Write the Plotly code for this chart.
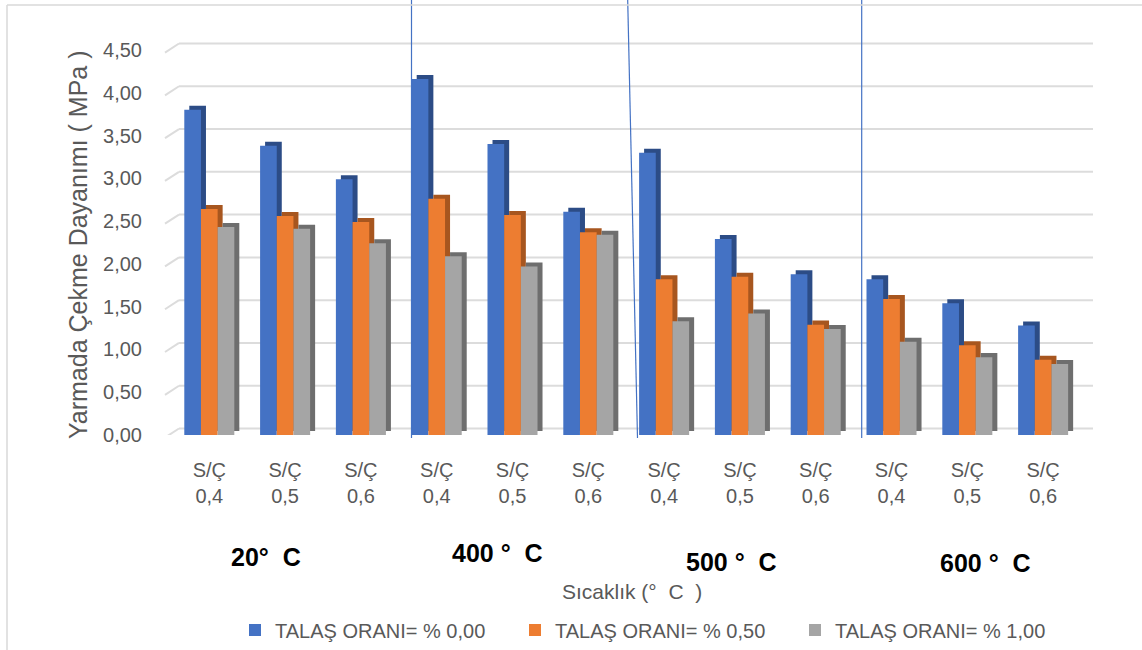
import plotly.graph_objects as go

# ---------------- data ----------------
categories = ["S/Ç<br>0,4", "S/Ç<br>0,5", "S/Ç<br>0,6"] * 4
temperature_labels = ["20°  C", "400 °  C", "500 °  C", "600 °  C"]
series_names = ["TALAŞ ORANI= % 0,00", "TALAŞ ORANI= % 0,50", "TALAŞ ORANI= % 1,00"]
talas_000 = [3.80, 3.38, 2.99, 4.16, 3.40, 2.61, 3.30, 2.29, 1.88, 1.82, 1.54, 1.28]
talas_050 = [2.64, 2.56, 2.49, 2.76, 2.57, 2.37, 1.82, 1.85, 1.29, 1.59, 1.05, 0.88]
talas_100 = [2.43, 2.41, 2.24, 2.09, 1.97, 2.34, 1.33, 1.42, 1.24, 1.09, 0.91, 0.83]
y_ticks = [0, 0.5, 1, 1.5, 2, 2.5, 3, 3.5, 4, 4.5]

# ---------------- styles ----------------
front_colors = ["#4472C4", "#ED7D31", "#A5A5A5"]
side_colors = ["#2C4C86", "#A7561F", "#6E6E6E"]
offsets = [-0.33, -0.11, 0.11]
bar_w = 0.22
depth_x = 0.066
depth_y = 0.047
wall_shift = 0.076     # back-wall gridline offset (pseudo-3D)
floor_drop = 0.03
FONT = "Liberation Sans, Arial, sans-serif"
GREY_TXT = "#595959"
GRID = "#DCDCDC"

xs = list(range(len(categories)))
series = [talas_000, talas_050, talas_100]

fig = go.Figure()
for i, vals in enumerate(series):
    # pseudo-3D side/top face
    fig.add_trace(go.Bar(
        x=xs, y=vals, base=[depth_y] * len(vals),
        offset=offsets[i] + depth_x, width=bar_w,
        marker=dict(color=side_colors[i], line=dict(width=0)),
        showlegend=False, hoverinfo="skip"))
    # front face
    fig.add_trace(go.Bar(
        x=xs, y=vals, offset=offsets[i], width=bar_w, name=series_names[i],
        marker=dict(color=front_colors[i], line=dict(width=0))))

L, R, T, B = 175, 49, 40, 215
W, H = 1142, 650
pw, ph = W - L - R, H - T - B
PPU = 85.56
y_max = ph / PPU


def px(xp):
    return (xp - L) / pw


def py(yp):
    return (H - B - yp) / ph


fig.update_layout(
    width=W, height=H,
    margin=dict(l=L, r=R, t=T, b=B, autoexpand=False),
    paper_bgcolor="white", plot_bgcolor="white",
    barmode="overlay",
    separators=", ",
    font=dict(family=FONT, color=GREY_TXT),
    xaxis=dict(
        range=[-0.4525, 11.658], tickmode="array", tickvals=xs, ticktext=categories,
        showgrid=False, zeroline=False, showline=False, ticks="",
        tickfont=dict(size=20, color=GREY_TXT), ticklabelstandoff=21,
        automargin=False,
    ),
    yaxis=dict(
        range=[0, y_max], tickmode="array", tickvals=y_ticks, tickformat=".2f",
        showgrid=False, zeroline=False,
        showline=False, ticks="", tickfont=dict(size=20, color=GREY_TXT),
        ticklabelstandoff=32, automargin=False,
    ),
    legend=dict(
        orientation="h", x=px(235), xanchor="left", y=py(630), yanchor="middle",
        font=dict(size=20, color=GREY_TXT), entrywidth=235, entrywidthmode="pixels",
        bgcolor="rgba(0,0,0,0)",
    ),
)

# pseudo-3D gridlines: back-wall line plus floor diagonal, positioned on the y scale
for v in y_ticks:
    fig.add_shape(type="line", xref="paper", yref="y", layer="below",
                  x0=px(179), x1=px(1093), y0=v + wall_shift, y1=v + wall_shift,
                  line=dict(color=GRID, width=2))
    fig.add_shape(type="line", xref="paper", yref="y", layer="below",
                  x0=px(165), x1=px(179), y0=v - floor_drop, y1=v + wall_shift,
                  line=dict(color=GRID, width=2))

# y-axis title
fig.add_annotation(text="Yarmada Çekme Dayanımı ( MPa )", xref="paper", yref="paper",
                   x=px(78), y=py(245), textangle=-90, showarrow=False,
                   font=dict(size=25, color=GREY_TXT), xanchor="center", yanchor="middle")
# x-axis title
fig.add_annotation(text="Sıcaklık (°  C  )", xref="paper", yref="paper",
                   x=px(632), y=py(591), showarrow=False,
                   font=dict(size=21, color=GREY_TXT), xanchor="center", yanchor="middle")
# temperature group labels
for lbl, (gx, gy) in zip(temperature_labels, [(266, 557), (497, 553), (731, 562), (985, 563)]):
    fig.add_annotation(text="<b>%s</b>" % lbl, xref="paper", yref="paper",
                       x=px(gx), y=py(gy), showarrow=False,
                       font=dict(size=25, color="black"), xanchor="center", yanchor="middle")

# separator lines
for (x0, x1) in [(411.5, 411.5), (627.7, 637.5), (861.7, 861.7)]:
    fig.add_shape(type="line", xref="paper", yref="paper",
                  x0=px(x0), x1=px(x1), y0=py(0), y1=py(438),
                  line=dict(color="#4472C4", width=1.2))
# chart area border (top & left)
fig.add_shape(type="line", xref="paper", yref="paper", x0=px(7), x1=px(1142),
              y0=py(5), y1=py(5), line=dict(color="#D9D9D9", width=1.5))
fig.add_shape(type="line", xref="paper", yref="paper", x0=px(7), x1=px(7),
              y0=py(5), y1=py(650), line=dict(color="#D9D9D9", width=1.5))

fig.write_html("out.html", config={"displayModeBar": False},
               post_script="document.body.style.margin='0px';document.body.style.overflow='hidden';")
